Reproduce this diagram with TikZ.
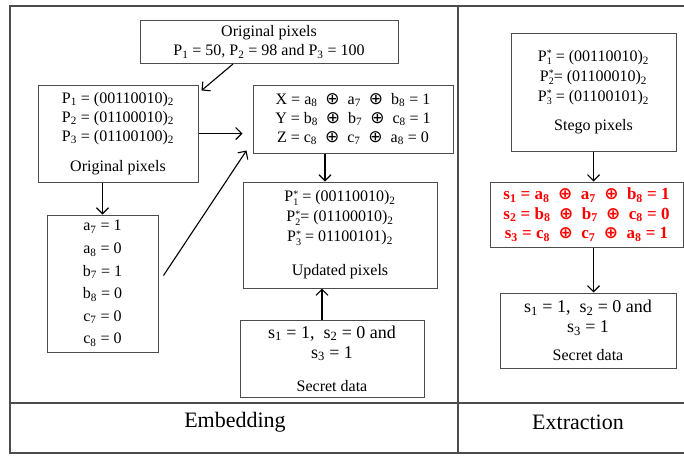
\documentclass[tikz,border=0pt]{standalone}
\usepackage{fontspec}
\setmainfont{Liberation Serif}
\newfontfamily\opfont{DejaVu Sans}
\usetikzlibrary{arrows.meta,calc}
\newcommand{\xo}{\enspace{\opfont\fontsize{17}{17}\selectfont ⊕}\enspace}
\newcommand{\sbs}[1]{\textsubscript{#1}}
\newcommand{\Pst}[1]{P\rlap{\raisebox{0.3em}{\fontsize{10}{10}\selectfont *}}\raisebox{-0.2em}{\fontsize{10}{10}\selectfont #1}}
\newcommand{\captext}[1]{{\fontsize{16}{19}\selectfont #1}}
\tikzset{
    box/.style={
           rectangle,
           draw=black!70, line width=1pt,
           inner sep=0pt,
           align=center,
           font=\fontsize{16}{19}\selectfont,
           },
    frame/.style={draw=black!70, line width=1.2pt},
    link/.style={->, line width=1.1pt},
    part/.style={font=\fontsize{22}{26}\selectfont},
    big/.style={font=\fontsize{18}{20}\selectfont},
}
\begin{document}
\begin{tikzpicture}[x=1pt, y=-1pt, >={Straight Barb[length=6pt,width=12pt]}]
\useasboundingbox (0,0) rectangle (684,456);
\clip (0,0) rectangle (684,456);
% outer frame and panels
\draw[frame] (10,6) rectangle (700,453);
\draw[frame] (458,6) -- (458,453);
\draw[frame] (10,403) -- (684,403);
\node[part] (emb) at (235,422) {Embedding};
\node[part] (ext) at (578,422) {Extraction};
% embedding
\node[box, minimum width=258, minimum height=43] (orig) at (269,42)
    {Original pixels\\ P\sbs{1} = 50, P\sbs{2} = 98 and P\sbs{3} = 100};
\node[box, minimum width=160, minimum height=97] (pix) at (118,133.5)
    {P\sbs{1} = (00110010)\sbs{2}\\ P\sbs{2} = (01100010)\sbs{2}\\ P\sbs{3} = (01100100)\sbs{2}\\[11pt] Original pixels};
\node[box, minimum width=200, minimum height=68] (xyz) at (353,119)
    {X = a\sbs{8}\xo a\sbs{7}\xo b\sbs{8} = 1\\ Y = b\sbs{8}\xo b\sbs{7}\xo c\sbs{8} = 1\\ Z = c\sbs{8}\xo c\sbs{7}\xo a\sbs{8} = 0};
\node[box, minimum width=111, minimum height=137, font=\fontsize{16}{22.6}\selectfont] (bits) at (102.5,283.5)
    {a\sbs{7} = 1\\ a\sbs{8} = 0\\ b\sbs{7} = 1\\ b\sbs{8} = 0\\ c\sbs{7} = 0\\ c\sbs{8} = 0};
\node[box, minimum width=194, minimum height=106, font=\fontsize{16}{20}\selectfont] (upd) at (340,235)
    {\Pst{1} = (00110010)\sbs{2}\\ \Pst{2}= (01100010)\sbs{2}\\ \Pst{3} = 01100101)\sbs{2}\\[14pt] Updated pixels};
\node[box, big, minimum width=184, minimum height=77] (sec) at (332,358.5)
    {s\sbs{1} = 1,\ \ s\sbs{2} = 0 and\\ s\sbs{3} = 1\\[13pt] \captext{Secret data}};
% extraction
\node[box, minimum width=165, minimum height=118, font=\fontsize{16}{20}\selectfont] (stego) at (593.5,92)
    {\Pst{1} = (00110010)\sbs{2}\\ \Pst{2}= (01100010)\sbs{2}\\ \Pst{3} = (01100101)\sbs{2}\\[9pt] Stego pixels};
\node[box, minimum width=193, minimum height=65, text=red, font=\fontsize{17}{19.5}\selectfont\bfseries] (xor) at (586.5,214.5)
    {s\sbs{1} = a\sbs{8}\xo a\sbs{7}\xo b\sbs{8} = 1\\ s\sbs{2} = b\sbs{8}\xo b\sbs{7}\xo c\sbs{8} = 0\\ s\sbs{3} = c\sbs{8}\xo c\sbs{7}\xo a\sbs{8} = 1};
\node[box, big, minimum width=176, minimum height=75] (sec2) at (588,330.5)
    {s\sbs{1} = 1,\ \ s\sbs{2} = 0 and\\ s\sbs{3} = 1\\[8pt] \captext{Secret data}};
% arrows
\draw[link] ([xshift=-36pt]orig.south) -- ([xshift=3pt,yshift=-6pt]pix.north east);
\draw[link] (pix.east) -- ([xshift=-10pt]xyz.west |- pix.east);
\draw[link] (pix.south -| bits.north) -- (bits.north);
\draw[link] ([xshift=5pt,yshift=8pt]bits.east) -- ([xshift=-6pt,yshift=3pt]xyz.south west);
\draw[link] ([xshift=-28pt]xyz.south) -- ([xshift=-28pt]xyz.south |- upd.north);
\draw[link] ([xshift=-10pt]sec.north) -- ([xshift=-10pt]sec.north |- upd.south);
\draw[link] (stego.south) -- (stego.south |- xor.north);
\draw[link] (stego.south |- xor.south) -- (stego.south |- sec2.north);
\end{tikzpicture}
\end{document}
